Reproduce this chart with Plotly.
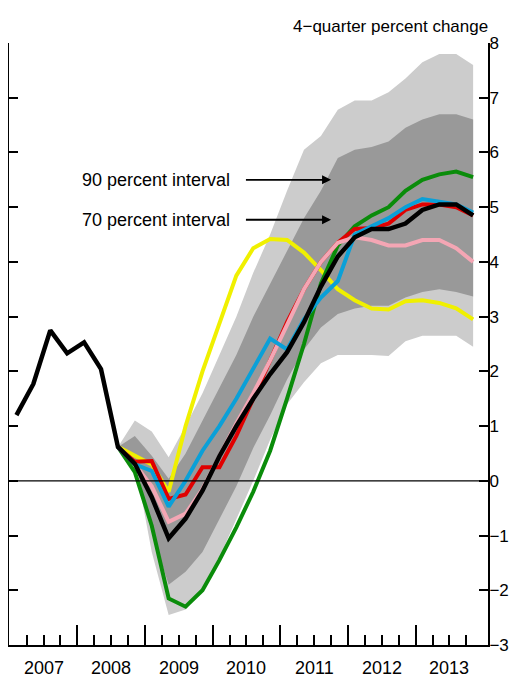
import plotly.graph_objects as go

# quarterly positions: 2007Q1 .. 2013Q4
quarters = [y + q * 0.25 + 0.1 for y in range(2007, 2014) for q in range(4)]
fq = quarters[6:]  # forecasts start 2008Q3

black = [1.2, 1.77, 2.75, 2.33, 2.53, 2.04, 0.62, 0.31, -0.3, -1.05, -0.69, -0.18, 0.45, 1.0,
         1.5, 1.95, 2.35, 2.9, 3.55, 4.1, 4.45, 4.6, 4.6, 4.7, 4.95, 5.05, 5.05, 4.85]
yellow = [0.62, 0.45, 0.3, -0.2, 1.0, 2.0, 2.9, 3.75, 4.25, 4.42, 4.4, 4.17, 3.85, 3.5, 3.3,
          3.15, 3.13, 3.28, 3.3, 3.25, 3.15, 2.95]
green = [0.62, 0.16, -0.82, -2.15, -2.3, -2.0, -1.45, -0.85, -0.2, 0.55, 1.5, 2.5, 3.6, 4.3,
         4.65, 4.85, 5.0, 5.3, 5.5, 5.6, 5.65, 5.55]
red = [0.62, 0.35, 0.36, -0.33, -0.25, 0.25, 0.25, 0.82, 1.5, 2.2, 2.9, 3.5, 4.0, 4.35, 4.6,
       4.62, 4.7, 4.95, 5.05, 5.05, 5.0, 4.85]
pink = [0.62, 0.3, -0.1, -0.75, -0.6, -0.15, 0.45, 1.05, 1.6, 2.2, 2.85, 3.5, 4.0, 4.35, 4.45,
        4.4, 4.3, 4.3, 4.4, 4.4, 4.25, 4.0]
blue = [0.62, 0.3, 0.18, -0.47, 0.0, 0.55, 1.0, 1.5, 2.05, 2.6, 2.4, 2.95, 3.35, 3.65, 4.5,
        4.65, 4.8, 5.0, 5.15, 5.1, 5.05, 4.9]

p90_hi = [0.62, 1.1, 0.9, 0.43, 1.0, 1.6, 2.3, 3.0, 3.8, 4.5, 5.3, 6.05, 6.3, 6.78, 6.95,
          6.95, 7.1, 7.35, 7.65, 7.8, 7.8, 7.6]
p90_lo = [0.62, 0.35, -1.3, -2.45, -2.35, -2.0, -1.4, -0.7, 0.0, 0.75, 1.4, 1.8, 2.15, 2.3,
          2.3, 2.3, 2.28, 2.55, 2.65, 2.65, 2.65, 2.45]
p70_hi = [0.62, 0.82, 0.46, 0.04, 0.5, 1.1, 1.7, 2.3, 3.0, 3.6, 4.2, 4.8, 5.3, 5.9, 6.05,
          6.1, 6.2, 6.45, 6.6, 6.7, 6.7, 6.6]
p70_lo = [0.62, 0.4, -0.93, -1.9, -1.66, -1.3, -0.7, -0.1, 0.6, 1.2, 1.85, 2.4, 2.8, 3.05,
          3.15, 3.2, 3.2, 3.35, 3.45, 3.5, 3.45, 3.37]

years = list(range(2007, 2014))

fig = go.Figure()
for hi, lo, col in [(p90_hi, p90_lo, "#cccccc"), (p70_hi, p70_lo, "#999999")]:
    fig.add_trace(go.Scatter(x=fq + fq[::-1], y=hi + lo[::-1], fill="toself", fillcolor=col,
                             line=dict(width=0), mode="lines", hoverinfo="skip"))

fig.add_hline(y=0, line=dict(color="black", width=1.2))

for ys, col in [(yellow, "#f0f000"), (green, "#0a8c0a"), (red, "#e00000"),
                (pink, "#f4a6b4"), (blue, "#0aa0d8")]:
    fig.add_trace(go.Scatter(x=fq, y=ys, mode="lines", line=dict(color=col, width=4)))
fig.add_trace(go.Scatter(x=quarters, y=black, mode="lines", line=dict(color="black", width=4.5)))
# dummy trace for the left axis
fig.add_trace(go.Scatter(x=[2010], y=[0], yaxis="y2", mode="markers", marker_opacity=0,
                         hoverinfo="skip"))

font = dict(family="Liberation Sans, Arial", size=18, color="black")
for y in years:
    fig.add_annotation(x=y + 0.5, y=-3, yref="y", text=str(y), showarrow=False,
                       yshift=-23, font=font)
for txt, yv in [("90 percent interval", 5.5), ("70 percent interval", 4.77)]:
    fig.add_annotation(x=2010.28, y=yv, text=txt, showarrow=False, xanchor="right", font=font)
    fig.add_annotation(x=2011.75, y=yv, ax=2010.47, ay=yv, axref="x", ayref="y", text="",
                       showarrow=True, arrowhead=2, arrowsize=1, arrowwidth=1.8,
                       arrowcolor="black")
fig.add_annotation(x=1, y=1, xref="paper", yref="paper", xanchor="right", yanchor="bottom",
                   text="4\u2212quarter percent change", showarrow=False, yshift=5, xshift=2,
                   font=dict(family="Liberation Sans, Arial", size=17, color="black"))

fig.update_layout(
    width=519, height=690, showlegend=False,
    margin=dict(l=1, r=39, t=35, b=53, autoexpand=False),
    plot_bgcolor="white", paper_bgcolor="white",
    xaxis=dict(range=[2006.99, 2014.07], showgrid=False, zeroline=False, showline=True,
               linecolor="black", linewidth=2, tickvals=list(range(2008, 2014)),
               ticks="inside", ticklen=20, tickwidth=2, tickcolor="black", showticklabels=False,
               minor=dict(tickvals=[y + q * 0.25 for y in range(2007, 2014) for q in range(1, 4)],
                          ticks="inside", ticklen=10, tickwidth=2, tickcolor="black")),
    yaxis=dict(range=[-3, 8], side="right", showgrid=False, zeroline=False, showline=True,
               linecolor="black", linewidth=2, dtick=1, ticks="inside", ticklen=9,
               tickwidth=2, tickcolor="black", ticklabelstandoff=-4,
               tickfont=dict(family="Liberation Sans, Arial", size=17, color="black")),
    yaxis2=dict(range=[-3, 8], overlaying="y", side="left", showgrid=False, zeroline=False,
                showline=True, linecolor="black", linewidth=2, dtick=1, ticks="inside",
                ticklen=9, tickwidth=2, tickcolor="black", showticklabels=False),
)

fig.write_html("out.html")
